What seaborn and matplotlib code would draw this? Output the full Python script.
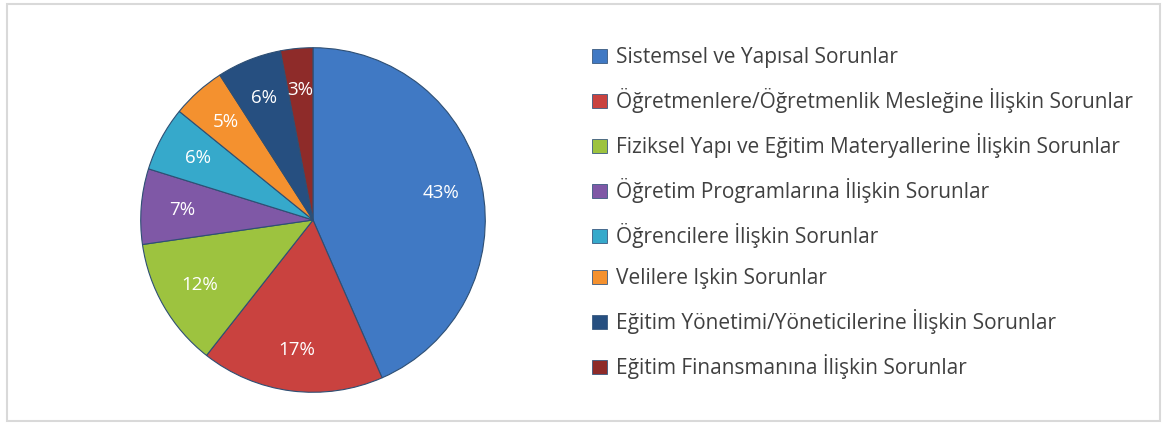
import matplotlib
matplotlib.use("Agg")
import matplotlib.pyplot as plt
from matplotlib.patches import Patch, Rectangle
import seaborn as sns

# veriler
kategoriler = [
    "Sistemsel ve Yapısal Sorunlar",
    "Öğretmenlere/Öğretmenlik Mesleğine İlişkin Sorunlar",
    "Fiziksel Yapı ve Eğitim Materyallerine İlişkin Sorunlar",
    "Öğretim Programlarına İlişkin Sorunlar",
    "Öğrencilere İlişkin Sorunlar",
    "Velilere Işkin Sorunlar",
    "Eğitim Yönetimi/Yöneticilerine İlişkin Sorunlar",
    "Eğitim Finansmanına İlişkin Sorunlar",
]
yuzdeler = [43, 17, 12, 7, 6, 5, 6, 3]
renkler = ["#4079C4", "#C9423F", "#9DC33F", "#7F58A6",
           "#36A9CB", "#F4912F", "#264F80", "#8E2B29"]

sns.set_theme(style="white")
plt.rcParams["font.family"] = ["Open Sans", "DejaVu Sans"]

fig = plt.figure(figsize=(11.67, 4.25), dpi=100)

# pasta grafiği
ax = fig.add_axes([139 / 1167, 31 / 425, 348 / 1167, 348 / 425])
wedges, texts, autotexts = ax.pie(
    yuzdeler,
    colors=sns.color_palette(renkler),
    startangle=90,
    counterclock=False,
    autopct="%d%%",
    pctdistance=0.76,
    wedgeprops=dict(edgecolor="#2E4F74", linewidth=0.8),
    textprops=dict(color="white", fontsize=13.5),
)
ax.set_xlim(-1.01, 1.01)
ax.set_ylim(-1.01, 1.01)
ax.set_aspect("equal")
ax.axis("off")

# lejant
handles = [Patch(facecolor=c, edgecolor="#3A5A80", linewidth=0.6) for c in renkler]
fig.legend(
    handles, kategoriler,
    loc="upper left", bbox_to_anchor=(584 / 1167, 1 - 39 / 425),
    frameon=False, fontsize=15, labelcolor="#404040",
    handlelength=0.68, handleheight=0.68, handletextpad=0.48,
    labelspacing=0.96, borderaxespad=0,
)

# dış çerçeve
fig.patches.append(Rectangle((7 / 1167, 4 / 425), 1153 / 1167, 417 / 425,
                             transform=fig.transFigure, fill=False,
                             edgecolor="#D9D9D9", linewidth=1.5))

fig.savefig("out.png", dpi=100)
